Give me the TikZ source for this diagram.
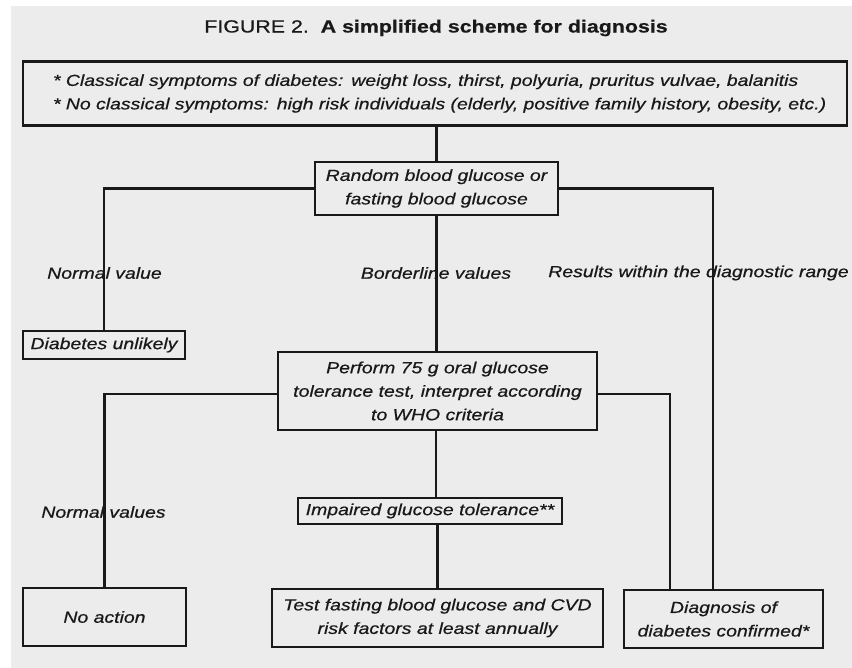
\documentclass[tikz,border=0pt]{standalone}
\usepackage{fontspec}
\setmainfont{Liberation Sans}[FakeStretch=1.215, FakeBold=0.6]
\definecolor{bg}{RGB}{236,236,236}
\definecolor{ink}{RGB}{25,25,25}
\newcommand\figfs{\fontsize{16pt}{23.5pt}\selectfont}
\begin{document}
\begin{tikzpicture}[x=1pt,y=-1pt,
  box/.style={draw=ink, line width=2.1pt, fill=bg, inner sep=0pt, align=center,
              font=\itshape\figfs, text=ink},
  lbl/.style={inner sep=1.5pt, font=\itshape\figfs, text=ink},
  conn/.style={draw=ink, line width=2.1pt}]
\useasboundingbox (0,0) rectangle (852,668);
\fill[white] (0,0) rectangle (852,668);
\fill[bg] (11,6) rectangle (852,668);

\node[text=ink, font=\fontsize{17.6pt}{20pt}\selectfont] (title) at (436,28)
  {FIGURE 2.\ \ \textbf{A simplified scheme for diagnosis}};

\node[box, align=left, text width=804pt, inner xsep=10pt, minimum height=64pt] (top) at (435,93.5)
  {\hspace*{20pt}* Classical symptoms of diabetes: weight loss, thirst, polyuria, pruritus vulvae, balanitis\\
   \hspace*{20pt}* No classical symptoms: high risk individuals (elderly, positive family history, obesity, etc.)};

\node[box, minimum width=243pt, minimum height=53pt] (random) at (436.5,188.5)
  {Random blood glucose or\\fasting blood glucose};
\node[box, minimum width=162pt, minimum height=28pt] (dunlikely) at (104,345)
  {Diabetes unlikely};
\node[box, minimum width=319pt, minimum height=78pt] (perform) at (437.5,391)
  {Perform 75 g oral glucose\\tolerance test, interpret according\\to WHO criteria};
\node[box, minimum width=264pt, minimum height=26pt] (igt) at (430,511)
  {Impaired glucose tolerance**};
\node[box, minimum width=163pt, minimum height=58pt] (noact) at (104.5,617)
  {No action};
\node[box, minimum width=331pt, minimum height=58pt] (test) at (437.5,618)
  {Test fasting blood glucose and CVD\\risk factors at least annually};
\node[box, minimum width=199pt, minimum height=58pt] (diag) at (723.5,619)
  {Diagnosis of\\diabetes confirmed*};

\draw[conn] (random.north |- top.south) -- (random.north);
\draw[conn] (random.west) -| (dunlikely.north);
\draw[conn] (random.east) -| ([xshift=-10.5pt]diag.north);
\draw[conn] (random.south) -- (random.south |- perform.north);
\draw[conn] ([yshift=-3pt]perform.west) -| (noact.north);
\draw[conn] ([yshift=-3pt]perform.east) -| ([xshift=-53.5pt]diag.north);
\draw[conn] ([xshift=-1.5pt]perform.south) -- ([xshift=-1.5pt]perform.south |- igt.north);
\draw[conn] (test.north |- igt.south) -- (test.north);

\node[lbl] (lnv) at (104.5,273) {Normal value};
\node[lbl] (lbv) at (436,273) {Borderline values};
\node[lbl] (lrd) at (698.5,273) {Results within the diagnostic range};
\node[lbl] (lnvs) at (103.5,512) {Normal values};
\end{tikzpicture}
\end{document}
